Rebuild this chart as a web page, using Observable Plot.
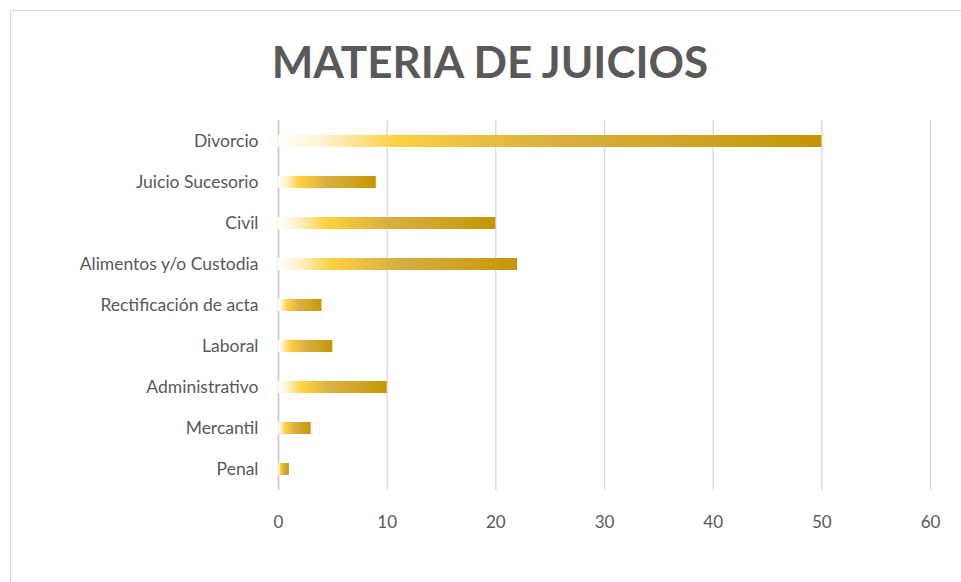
<!DOCTYPE html>
<html>
<head>
<meta charset="utf-8">
<script src="https://cdn.jsdelivr.net/npm/d3@7"></script>
<script src="https://cdn.jsdelivr.net/npm/@observablehq/plot@0.6"></script>
<style>
  html, body { margin: 0; padding: 0; background: #fff; }
  body { padding: 10px 0 0 10px; width: 961px; height: 582px; box-sizing: border-box; overflow: hidden; }
  #frame { border: 1px solid #d9d9d9; width: 1000px; height: 700px; box-sizing: border-box; }
  #title { height: 99px; line-height: 100px; width: 950px; text-align: center; padding-left: 8px; box-sizing: border-box;
           font-family: Lato, sans-serif; font-weight: bold; font-size: 44px; color: #595959; letter-spacing: 0px; }
</style>
</head>
<body>
<div id="frame">
  <div id="title">MATERIA DE JUICIOS</div>
  <div id="chart"></div>
</div>
<script>
const categories = ["Divorcio", "Juicio Sucesorio", "Civil", "Alimentos y/o Custodia", "Rectificación de acta", "Laboral", "Administrativo", "Mercantil", "Penal"];
const values = [50, 9, 20, 22, 4, 5, 10, 3, 1];
const xTicks = [0, 10, 20, 30, 40, 50, 60];

const data = categories.map((c, i) => ({category: c, value: values[i]}));

const plot = Plot.plot({
  width: 950,
  height: 472,
  marginLeft: 267,
  marginRight: 31,
  marginTop: 10,
  marginBottom: 92,
  style: {fontFamily: "Lato, sans-serif", fontSize: "17px", color: "#595959", background: "transparent"},
  x: {domain: [0, 60], ticks: xTicks},
  y: {domain: categories, paddingInner: 0.7, paddingOuter: 0.35},
  marks: [
    Plot.ruleX(xTicks.filter(d => d !== 0), {stroke: "#d9d9d9", strokeWidth: 1.3}),
    Plot.ruleX([0], {stroke: "#c8c8c8", strokeWidth: 1.6}),
    Plot.barX(data, {x: "value", y: "category", fill: "url(#goldGrad)"}),
    Plot.axisY({tickSize: 0, tickPadding: 20, label: null, fontSize: 17.5}),
    Plot.axisX({ticks: xTicks, tickSize: 0, tickPadding: 25, label: null, fontSize: 17})
  ]
});

const defs = d3.select(plot).insert("defs", ":first-child");
const grad = defs.append("linearGradient").attr("id", "goldGrad").attr("x1", "0").attr("x2", "1").attr("y1", "0").attr("y2", "0");
[[0, "#ffffff"], [0.08, "#fff4d2"], [0.22, "#ffd040"], [0.5, "#d8b042"], [0.75, "#d0a426"], [1, "#c59600"]]
  .forEach(([o, c]) => grad.append("stop").attr("offset", o).attr("stop-color", c));

document.getElementById("chart").append(plot);
</script>
</body>
</html>
